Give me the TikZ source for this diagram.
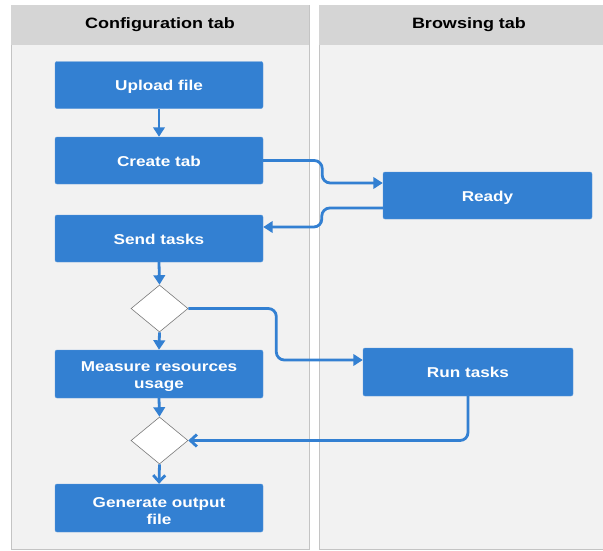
\documentclass[tikz,border=0pt]{standalone}
\usepackage{fontspec}
\setmainfont{Liberation Sans}[FakeStretch=1.2]
\usetikzlibrary{shapes.geometric,arrows.meta}
\definecolor{boxblue}{HTML}{3380D2}
\definecolor{lanebg}{HTML}{F2F2F2}
\definecolor{headbg}{HTML}{D5D5D5}
\definecolor{laneline}{HTML}{C4C4C4}
\definecolor{diaedge}{HTML}{7A7A7A}
\begin{document}
\begin{tikzpicture}[x=1pt,y=-1pt,
  boxbase/.style={draw=boxblue!80!white, fill=boxblue, rounded corners=2pt,
    minimum width=208pt, minimum height=47pt, text=white,
    font=\bfseries\fontsize{14.3}{16.7}\selectfont, align=center, inner sep=0pt},
  stepbox/.style={boxbase, text height=14pt, text depth=3pt},
  decision/.style={diamond, draw=diaedge, fill=white, minimum width=57pt,
    minimum height=47pt, inner sep=0pt, line width=0.6pt},
  flow/.style={draw=boxblue, line width=2.8pt, rounded corners=8pt,
    -{Triangle[length=9.5pt,width=11.5pt]}},
  openflow/.style={draw=boxblue, line width=2.8pt, rounded corners=8pt,
    -{Straight Barb[length=6.5pt,width=12pt]}},
  lanebody/.style={fill=lanebg, draw=laneline, line width=0.6pt},
  headband/.style={fill=headbg},
  headtext/.style={font=\bfseries\fontsize{15}{18}\selectfont, text=black}
]
\useasboundingbox (0,0) rectangle (603,550);
\fill[white] (0,0) rectangle (603,550);
% lanes
\draw[lanebody] (11,5) rectangle (309,549);
\fill[headband] (11,5) rectangle (309,45);
\draw[lanebody] (319,5) rectangle (625,549);
\fill[headband] (319,5) rectangle (625,45);
\node[headtext] (h1) at (160,25) {Configuration tab};
\node[headtext] (h2) at (469,25) {Browsing tab};
% nodes
\node[stepbox] (upload) at (159,85) {Upload file};
\node[stepbox] (create) at (159,160.5) {Create tab};
\node[stepbox] (send) at (159,238.5) {Send tasks};
\node[decision] (dia1) at (159.5,308.5) {};
\node[boxbase, minimum height=48pt] (measure) at (159,374) {\rule{0pt}{15.5pt}Measure resources\\usage};
\node[decision] (dia2) at (159.5,440.5) {};
\node[boxbase, minimum height=48pt] (gen) at (159,508) {\rule{0pt}{15.5pt}Generate output\\file};
\node[stepbox, minimum width=209pt] (ready) at (487.5,195.5) {Ready};
\node[stepbox, minimum width=210pt, minimum height=48pt] (run) at (468,372) {Run tasks};
% connectors
\draw[flow] (upload.south) -- (create.north);
\draw[flow] (create.east) -- ++(59,0) |- ([yshift=12.5pt]ready.west);
\draw[flow] ([yshift=-12.5pt]ready.west) -- ++(-61,0) |- ([yshift=11.5pt]send.east);
\draw[flow] (send.south) -- (dia1.north);
\draw[flow] (dia1.south) -- (measure.north);
\draw[flow] (dia1.east) -- ++(88,0) |- ([yshift=12pt]run.west);
\draw[flow] (measure.south) -- (dia2.north);
\draw[openflow] (run.south) |- (dia2.east);
\draw[openflow] (dia2.south) -- (gen.north);
\end{tikzpicture}
\end{document}
